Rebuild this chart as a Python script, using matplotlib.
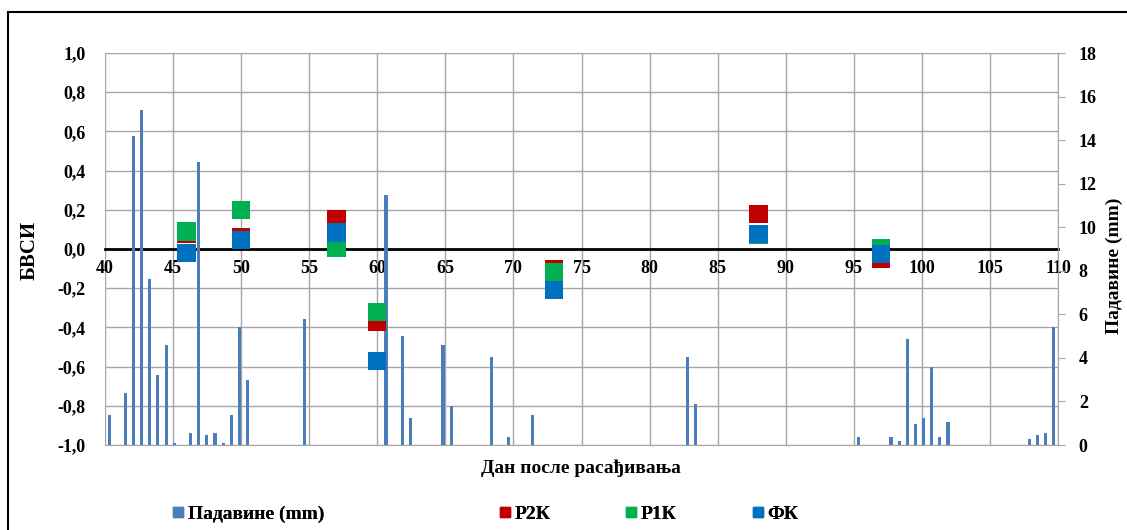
import numpy as np
import matplotlib
matplotlib.use('Agg')
import matplotlib.pyplot as plt
from matplotlib.lines import Line2D
from matplotlib.patches import Rectangle

plt.rcParams['font.family'] = ['Liberation Serif', 'DejaVu Serif']
plt.rcParams['font.weight'] = 'bold'

# rainfall, on its own category axis (117 days), only non-zero days listed
n_rain_days = 117
rain_pos = [0, 2, 3, 4, 5, 6, 7, 8, 10, 11, 12, 13, 14, 15, 16, 17, 24,
            34, 36, 37, 41, 42, 47, 49, 52, 71, 72,
            92, 96, 97, 98, 99, 100, 101, 102, 103, 113, 114, 115, 116]
rain_mm = [1.4, 2.4, 14.2, 15.4, 7.6, 3.2, 4.6, 0.1, 0.55, 13.0, 0.45, 0.55, 0.1, 1.4, 5.4, 3.0, 5.8,
           11.5, 5.0, 1.25, 4.6, 1.8, 4.05, 0.37, 1.4, 4.05, 1.9,
           0.37, 0.37, 0.18, 4.85, 0.95, 1.25, 3.6, 0.37, 1.05, 0.26, 0.44, 0.57, 5.4]

# index values per treatment
days = [46, 50, 57, 60, 73, 88, 97]
r2k = [0.075, 0.06, 0.15, -0.37, -0.105, 0.18, -0.05]
r1k = [0.09, 0.20, 0.005, -0.32, -0.12, 0.072, 0.005]
fk = [-0.02, 0.045, 0.085, -0.57, -0.21, 0.077, -0.025]

c_rain = '#4A7EBB'
c_r2k = '#C00000'
c_r1k = '#00B050'
c_fk = '#0070C0'
grid_c = '#A6A6A6'

fig = plt.figure(figsize=(11.27, 5.30), dpi=100)
pos = [105 / 1127, 85 / 530, 953 / 1127, 392 / 530]

# bottom layer: day axis, grid and zero line
ax = fig.add_axes(pos)
ax.set_xlim(40, 110)
ax.set_ylim(-1, 1)
ax.set_xticks(np.arange(40, 111, 5))
ax.set_yticks(np.arange(-1, 1.01, 0.2))
ax.set_yticklabels([('%.1f' % v).replace('.', ',').replace('-0,0', '0,0') for v in np.arange(-1, 1.01, 0.2)])
ax.grid(True, color=grid_c, lw=1)
for s in ['top', 'left', 'right']:
    ax.spines[s].set_visible(False)
ax.spines['bottom'].set_position(('data', 0))
ax.spines['bottom'].set_color('black')
ax.spines['bottom'].set_linewidth(2)
ax.tick_params(axis='x', length=0, pad=8, labelsize=13)
ax.tick_params(axis='y', length=0, pad=14, labelsize=13)

# rain bars on their own category axis, right-hand scale
axr = fig.add_axes(pos)
axr.patch.set_visible(False)
axr.bar(rain_pos, rain_mm, width=0.38, color=c_rain, zorder=2)
axr.set_xlim(-0.5, n_rain_days - 0.5)
axr.set_ylim(0, 18)
axr.set_xticks([])
axr.set_yticks(np.arange(0, 19, 2))
axr.yaxis.tick_right()
axr.tick_params(axis='y', direction='out', length=5, color=grid_c, pad=10, labelsize=13)
for s in axr.spines.values():
    s.set_color(grid_c)
axr.spines['left'].set_visible(False)

# markers on top
axm = fig.add_axes(pos, sharex=ax, sharey=ax)
axm.patch.set_visible(False)
axm.axis('off')
for vals, c in [(r2k, c_r2k), (r1k, c_r1k), (fk, c_fk)]:
    axm.scatter(days, vals, marker='s', s=175, color=c, edgecolors='none', zorder=3)

fig.text(30 / 1127, 1 - 250 / 530, 'БВСИ', rotation=90, ha='center', va='center', fontsize=15)
fig.text(1114 / 1127, 1 - 266 / 530, 'Падавине (mm)', rotation=90, ha='center', va='center', fontsize=14)
fig.text(581 / 1127, 1 - 468 / 530, 'Дан после расађивања', ha='center', va='center', fontsize=14)

# legend entries placed one by one like the spread-out Excel legend
entries = [('Падавине (mm)', c_rain, 172), ('Р2К', c_r2k, 499), ('Р1К', c_r1k, 625), ('ФК', c_fk, 752)]
for label, c, xpx in entries:
    h = Line2D([], [], ls='none', marker='s', markersize=7, color=c)
    leg = fig.legend([h], [label], loc='center left', bbox_to_anchor=(xpx / 1127, 1 - 514 / 530),
                     frameon=False, borderpad=0, borderaxespad=0, handlelength=0.6,
                     handletextpad=0.2, fontsize=14)
    fig.add_artist(leg)

# outer chart frame
fig.patches.append(Rectangle((8 / 1127, -0.1), 1.2, 1 - 12 / 530 + 0.1, transform=fig.transFigure,
                             fill=False, ec='black', lw=1.5))

fig.savefig('out.png', dpi=100)
